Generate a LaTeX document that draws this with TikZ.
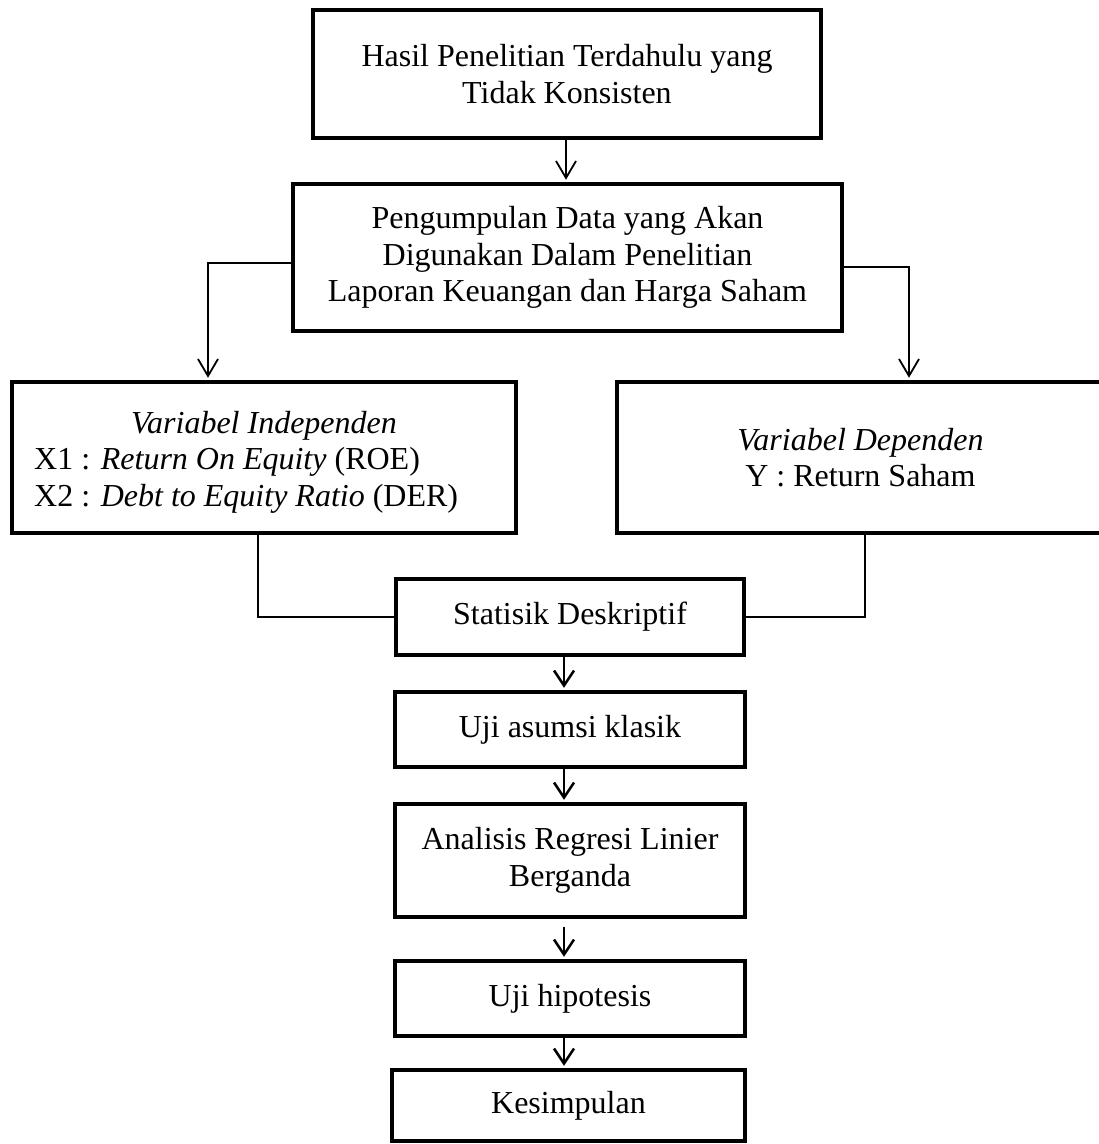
\documentclass[tikz,border=0pt]{standalone}
\usepackage{fontspec}
\setmainfont{Liberation Serif}
\usetikzlibrary{arrows.meta}
\begin{document}
\begin{tikzpicture}[x=1pt,y=-1pt,
  box/.style={draw, line width=4.5pt, inner sep=0pt, align=center,
    font=\fontsize{32}{36.5}\selectfont},
  txt/.style={inner sep=0pt, font=\fontsize{32}{36.5}\selectfont},
  conn/.style={line width=1.8pt},
  arr/.style={line width=1.8pt, shorten >=2pt,
    -{Straight Barb[length=17pt,width=20pt,line width=1.8pt]}},
  arrb/.style={line width=2.5pt, shorten >=2pt,
    -{Straight Barb[length=15pt,width=20pt,line width=2.5pt]}}]
\useasboundingbox (0,0) rectangle (1099,1144);

\node[box, minimum width=508pt, minimum height=128pt] (hasil) at (567,74)
  {Hasil Penelitian Terdahulu yang\\Tidak Konsisten};
\node[box, minimum width=549pt, minimum height=147pt] (kumpul) at (567.5,257.5)
  {Pengumpulan Data yang Akan\\Digunakan Dalam Penelitian\\Laporan Keuangan dan Harga Saham};
\node[box, minimum width=504pt, minimum height=151pt] (indep) at (264,457.5) {};
\node[txt, anchor=base] (indept) at (264,433) {\textit{Variabel Independen}};
\node[txt, anchor=base west] (xone) at (34,469) {X1 : \textit{Return On Equity} (ROE)};
\node[txt, anchor=base west] (xtwo) at (34,506) {X2 : \textit{Debt to Equity Ratio} (DER)};
\node[box, minimum width=487pt, minimum height=151pt] (dep) at (860.5,457.5)
  {\textit{Variabel Dependen}\\Y : Return Saham};
\node[box, minimum width=348pt, minimum height=76pt] (stat) at (570,617) {Statisik Deskriptif};
\node[box, minimum width=350pt, minimum height=75pt] (uji) at (570,729.5) {Uji asumsi klasik};
\node[box, minimum width=350pt, minimum height=113pt] (reg) at (570,860.5)
  {Analisis Regresi Linier\\Berganda};
\node[box, minimum width=350pt, minimum height=75pt] (hip) at (570,998.5) {Uji hipotesis};
\node[box, minimum width=353pt, minimum height=71pt] (kes) at (568.5,1105.5) {Kesimpulan};

\coordinate (aone) at (566,0);
\coordinate (lone) at (208,263);
\coordinate (rone) at (909,267);
\coordinate (ltwo) at (258,0);
\coordinate (rtwo) at (865,0);
\coordinate (atwo) at (564,0);

\draw[arr] (hasil.south -| aone) -- (kumpul.north -| aone);
\draw[arr] (kumpul.west |- lone) -| (indep.north -| lone);
\draw[arr] (kumpul.east |- rone) -| (dep.north -| rone);
\draw[conn] (indep.south -| ltwo) |- (stat.west);
\draw[conn] (dep.south -| rtwo) |- (stat.east);
\draw[arrb] (stat.south -| atwo) -- (uji.north -| atwo);
\draw[arrb] (uji.south -| atwo) -- (reg.north -| atwo);
\draw[arrb, shorten <=8pt] (reg.south -| atwo) -- (hip.north -| atwo);
\draw[arrb] (hip.south -| atwo) -- (kes.north -| atwo);
\end{tikzpicture}
\end{document}
